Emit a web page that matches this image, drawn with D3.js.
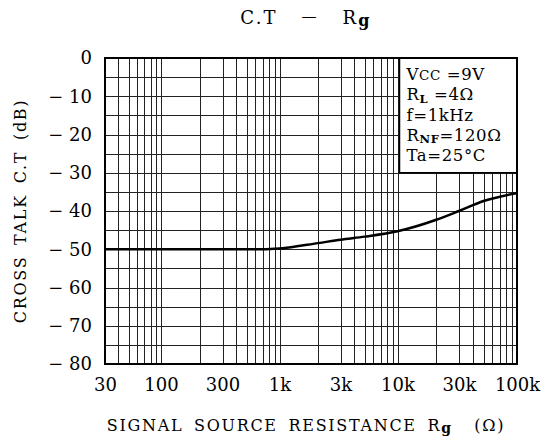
<!DOCTYPE html>
<html>
<head>
<meta charset="utf-8">
<script src="https://cdn.jsdelivr.net/npm/d3@7/dist/d3.min.js"></script>
<style>
  html, body { margin: 0; padding: 0; background: #fff; }
  svg { display: block; }
  text { font-family: "DejaVu Serif", "Liberation Serif", serif; fill: #000; white-space: pre; }
</style>
</head>
<body>
<div id="chart"></div>
<script>
// ---- data ----
const resistance = [30, 100, 300, 700, 1000, 2000, 3000, 5000, 10000, 20000, 30000, 50000, 100000];
const crossTalk  = [-50, -50, -50, -50, -49.8, -48.4, -47.5, -46.7, -45.3, -42.3, -40.0, -37.4, -35.3];
const xTickValues = [30, 100, 300, 1000, 3000, 10000, 30000, 100000];
const xTickLabels = ["30", "100", "300", "1k", "3k", "10k", "30k", "100k"];
const yTickValues = [0, -10, -20, -30, -40, -50, -60, -70, -80];
const conditions = [
  { main: "V", sub: "CC", rest: " =9V" },
  { main: "R", sub: "L", rest: " =4Ω" },
  { main: "f=1kHz", sub: "", rest: "" },
  { main: "R", sub: "NF", rest: "=120Ω" },
  { main: "Ta=25°C", sub: "", rest: "" }
];

// ---- layout ----
const W = 552, H = 443;
const svg = d3.select("#chart").append("svg").attr("width", W).attr("height", H);

// printed log paper is slightly distorted: piecewise log scale through the labelled ticks
const x = d3.scaleLog()
  .domain(xTickValues)
  .range([105, 161, 222.5, 279.5, 340.5, 397.5, 459, 517]);
const y = d3.scaleLinear().domain([-80, 0]).range([364, 58]);

const x0 = x(30), x1 = x(100000), y0 = y(-80), y1 = y(0);

// grid
const g = svg.append("g");
const vLines = [];
for (let dec = 10; dec <= 10000; dec *= 10) {
  for (let m = 1; m <= 9; m++) {
    const v = m * dec;
    if (v > 30 && v < 100000) vLines.push(v);
  }
}
g.selectAll("line.v").data(vLines).enter().append("line")
  .attr("x1", d => Math.round(x(d)) + 0.5).attr("x2", d => Math.round(x(d)) + 0.5)
  .attr("y1", y1).attr("y2", y0)
  .attr("stroke", "#222").attr("stroke-width", 1);
const hLines = d3.range(-75, 0, 5);
g.selectAll("line.h").data(hLines).enter().append("line")
  .attr("x1", x0).attr("x2", x1)
  .attr("y1", d => Math.round(y(d)) + 0.5).attr("y2", d => Math.round(y(d)) + 0.5)
  .attr("stroke", "#222").attr("stroke-width", 1);

// condition box
const boxX = x(10000) + 2, boxY = y(0), boxW = x1 - boxX, boxH = y(-30) - y(0);
svg.append("rect").attr("x", boxX).attr("y", boxY).attr("width", boxW).attr("height", boxH)
  .attr("fill", "#fff").attr("stroke", "#000").attr("stroke-width", 1.5);
conditions.forEach((c, i) => {
  const t = svg.append("text").attr("x", boxX + 7).attr("y", boxY + 22 + i * 20.3)
    .attr("font-size", 16.5).attr("letter-spacing", 0.6);
  t.append("tspan").text(c.main);
  if (c.sub) {
    t.append("tspan").text(c.sub)
      .attr("font-size", c.sub === "CC" ? 13.5 : 11.5)
      .attr("dy", c.sub === "CC" ? 0 : 2.5)
      .attr("font-weight", c.sub === "CC" ? "normal" : "bold");
    t.append("tspan").text(c.rest).attr("dy", c.sub === "CC" ? 0 : -2.5);
  }
});

// curve
const line = d3.line().x(d => x(d[0])).y(d => y(d[1])).curve(d3.curveMonotoneX);
svg.append("path").datum(resistance.map((r, i) => [r, crossTalk[i]]))
  .attr("d", line).attr("fill", "none").attr("stroke", "#000").attr("stroke-width", 2.5);

// border
svg.append("rect").attr("x", x0).attr("y", y1).attr("width", x1 - x0).attr("height", y0 - y1)
  .attr("fill", "none").attr("stroke", "#000").attr("stroke-width", 2);

// axes
const xAxis = d3.axisBottom(x).tickValues(xTickValues)
  .tickFormat((d, i) => xTickLabels[i]).tickSize(0).tickPadding(14);
const xa = svg.append("g").attr("transform", `translate(0,${y0})`).call(xAxis);
xa.select(".domain").remove();
xa.selectAll("text").attr("font-size", 18).attr("font-family", "DejaVu Serif, serif");

const yAxis = d3.axisLeft(y).tickValues(yTickValues)
  .tickFormat(d => d === 0 ? "0" : "− " + Math.abs(d)).tickSize(0).tickPadding(13);
const ya = svg.append("g").attr("transform", `translate(${x0},0)`).call(yAxis);
ya.select(".domain").remove();
ya.selectAll("text").attr("font-size", 18).attr("font-family", "DejaVu Serif, serif");

// title
const title = svg.append("text").attr("x", 306).attr("y", 24).attr("text-anchor", "middle")
  .attr("font-size", 18).attr("letter-spacing", 2.2);
title.append("tspan").text("C.T   ");
title.append("tspan").text("—").attr("font-size", 15).attr("dy", -3);
title.append("tspan").text("   R").attr("dy", 3);
title.append("tspan").text("g").attr("font-weight", "bold").attr("font-size", 16).attr("dy", 2);

// y label
svg.append("text").attr("transform", `translate(26,${(y0 + y1) / 2}) rotate(-90)`)
  .attr("text-anchor", "middle").attr("font-size", 16)
  .attr("letter-spacing", 1.7).attr("word-spacing", 4)
  .text("CROSS TALK C.T (dB)");

// x label
const xl = svg.append("text").attr("x", 306).attr("y", 431).attr("text-anchor", "middle")
  .attr("font-size", 16).attr("letter-spacing", 1.7).attr("word-spacing", 4);
xl.append("tspan").text("SIGNAL SOURCE RESISTANCE R");
xl.append("tspan").text("g").attr("font-weight", "bold").attr("font-size", 14).attr("dy", 2);
xl.append("tspan").text("  (Ω)").attr("dy", -2);
</script>
</body>
</html>
